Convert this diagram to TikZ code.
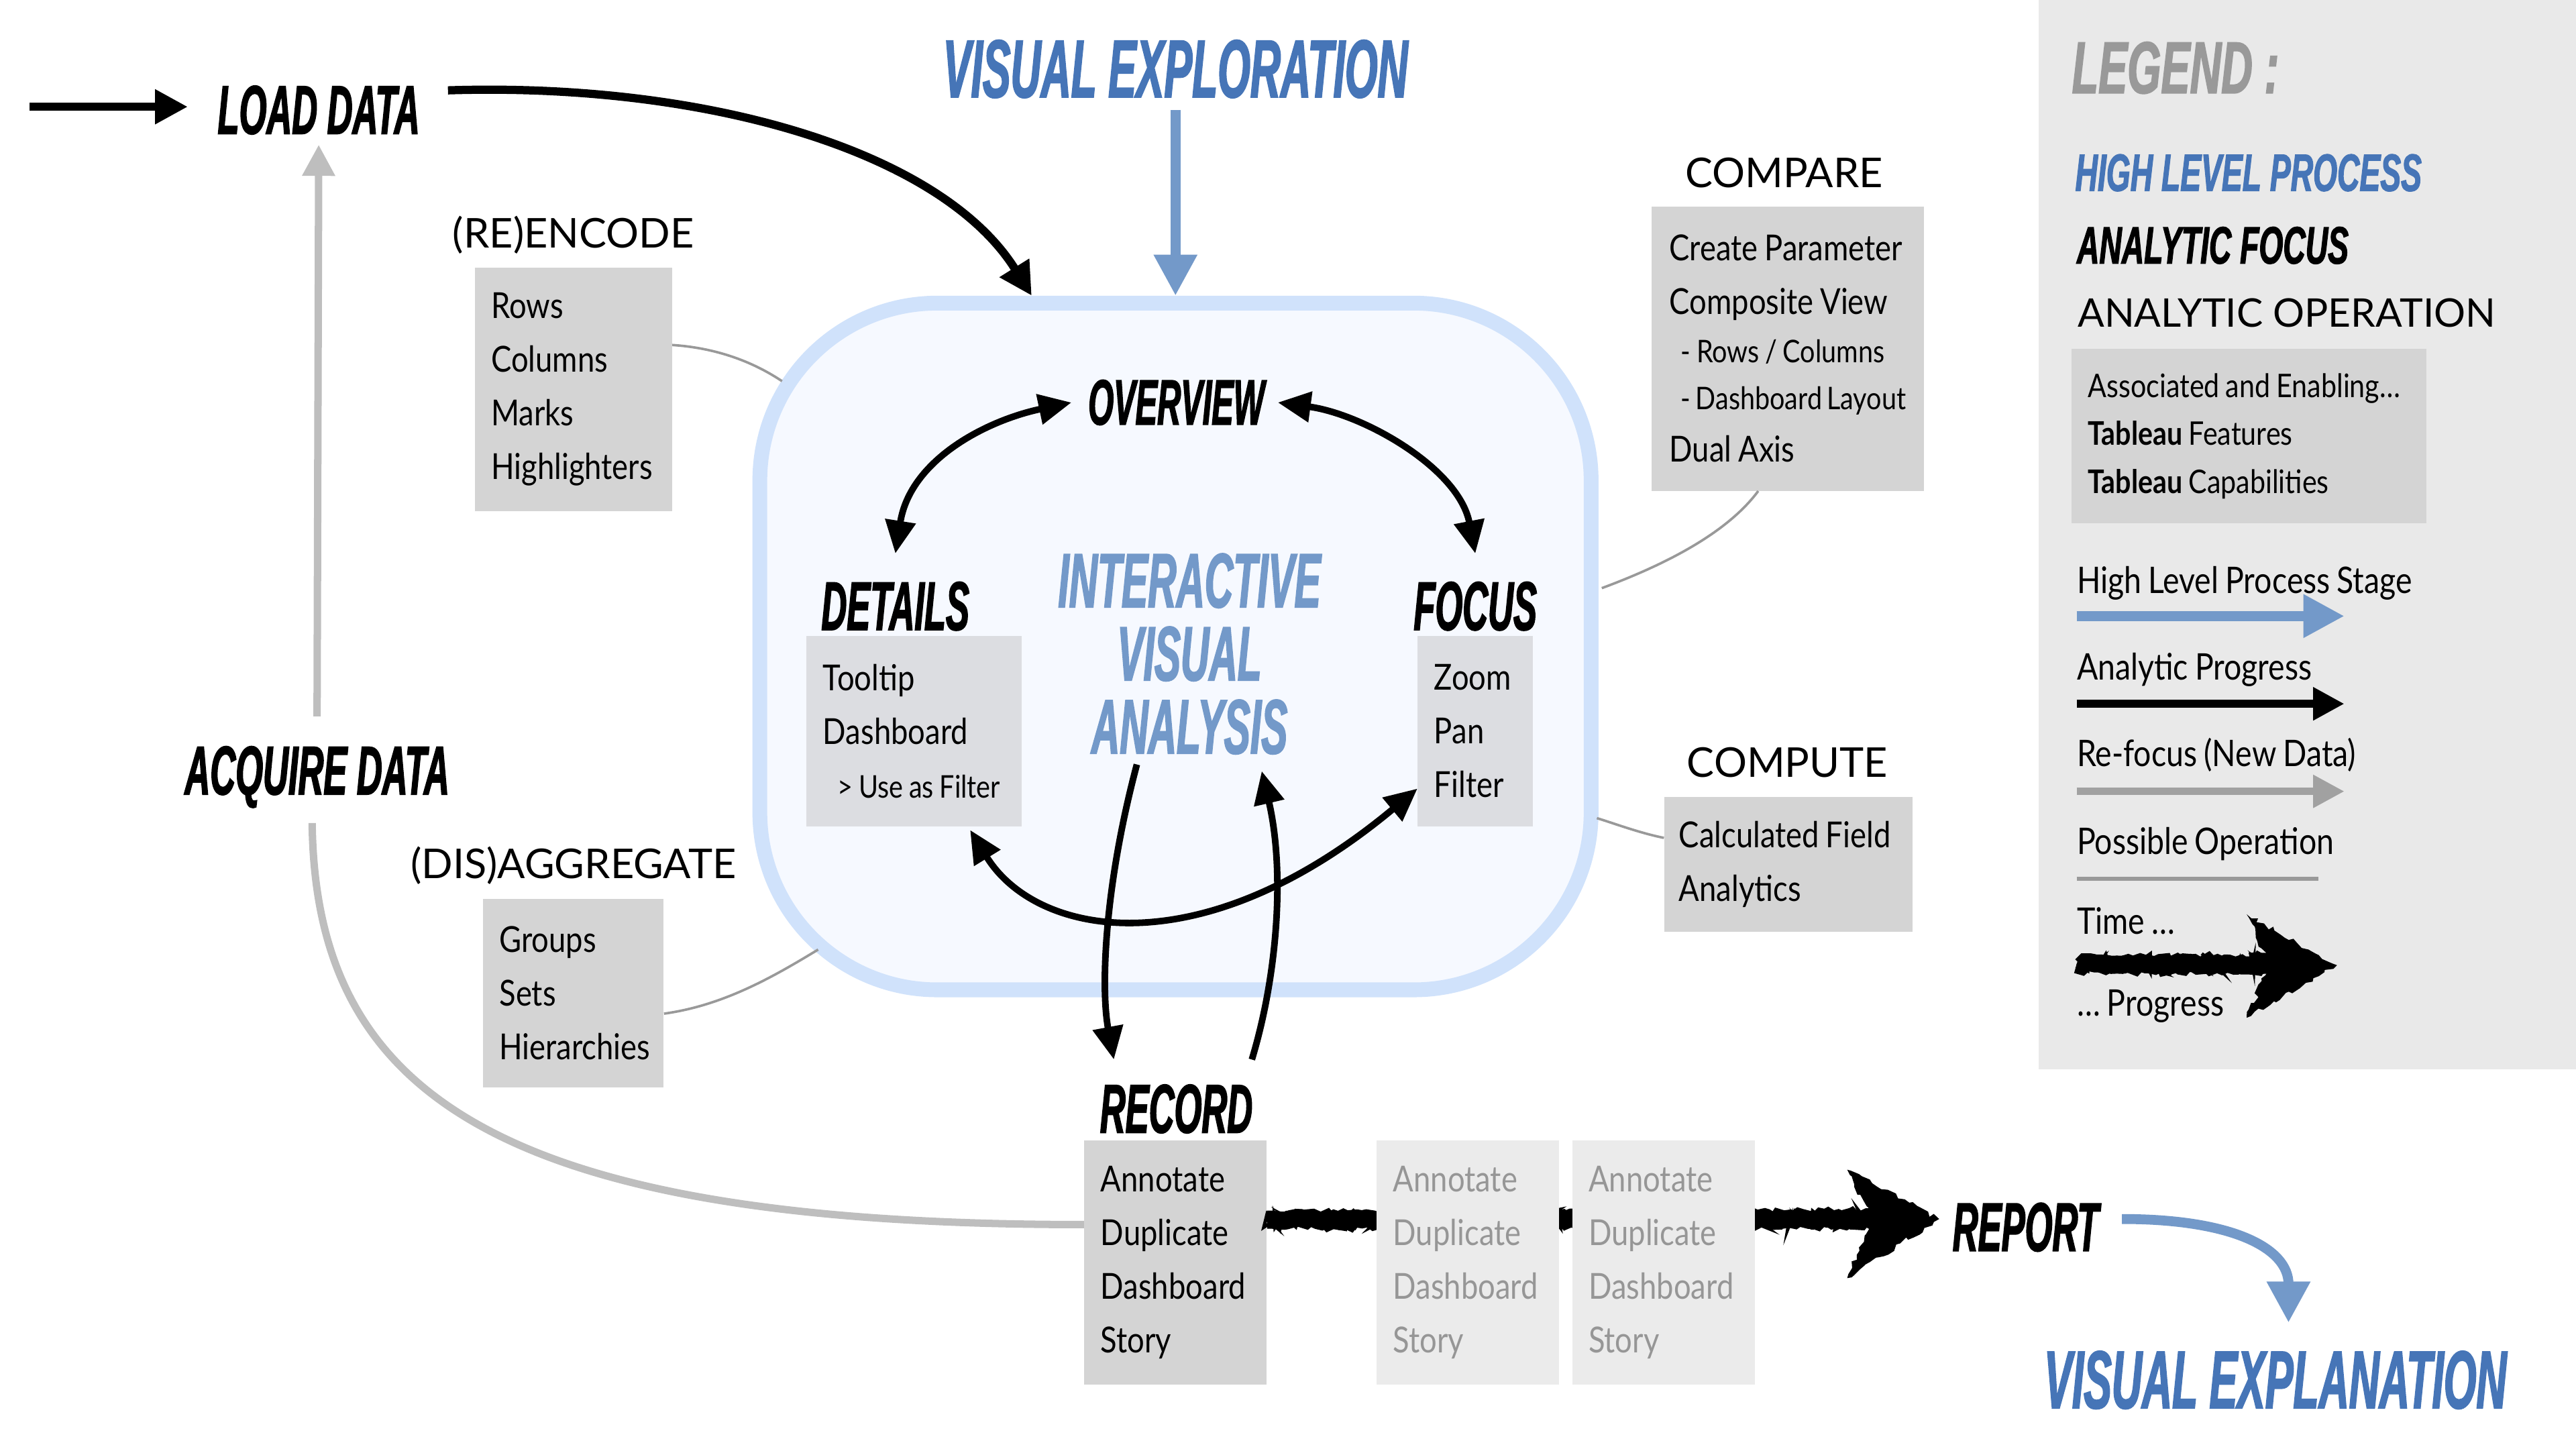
\documentclass[tikz,border=0pt]{standalone}
\usepackage{fontspec}
\usepackage{xcolor}
\usepackage{tikz}
\usetikzlibrary{arrows.meta, positioning, calc, decorations.pathmorphing}

\setmainfont{Lato}
\newfontfamily\comicfam[FakeStretch=0.51, FakeBold=1.5]{Liberation Sans}
\newfontfamily\comicwidefam[FakeStretch=0.59, FakeBold=1.5]{Liberation Sans}
\newfontfamily\condfam[FakeStretch=0.85, WordSpace=0.85]{Lato}
\newfontfamily\widefam{Lato}

\definecolor{titleblue}{RGB}{70,117,183}
\definecolor{stageblue}{RGB}{115,153,201}
\definecolor{ivaborder}{RGB}{208,226,251}
\definecolor{ivafill}{RGB}{246,249,255}
\definecolor{opgray}{RGB}{212,212,212}
\definecolor{innergray}{RGB}{220,221,225}
\definecolor{ghostgray}{RGB}{235,235,235}
\definecolor{ghosttext}{RGB}{150,150,150}
\definecolor{legendgray}{RGB}{233,233,233}
\definecolor{refocusgray}{RGB}{190,190,190}
\definecolor{linegray}{RGB}{153,153,153}

\tikzset{
  focustitle/.style={font=\comicfam\bfseries\itshape\fontsize{#1}{#1}\selectfont, inner sep=0pt},
  focustitle/.default=42,
  hltitle/.style={focustitle=50, text=titleblue},
  ivatitle/.style={font=\comicfam\bfseries\itshape\fontsize{47}{44.5}\selectfont,
    text=stageblue, align=center, inner sep=0pt},
  legendtitle/.style={font=\comicwidefam\bfseries\itshape\fontsize{#1}{#1}\selectfont,
    inner sep=0pt, anchor=base west},
  legendtitle/.default=32,
  oplabel/.style={font=\widefam\fontsize{#1}{#1}\selectfont, inner sep=0pt},
  oplabel/.default=25,
  opbox/.style={fill=opgray, inner xsep=10pt, inner ysep=0pt, align=flush left,
    font=\condfam\fontsize{21.8}{32.7}\selectfont,
    execute at begin node={\hyphenpenalty=10000 \exhyphenpenalty=10000 }},
  innerbox/.style={opbox, fill=innergray},
  ghostbox/.style={opbox, fill=ghostgray, text=ghosttext},
  legendtext/.style={font=\condfam\fontsize{22.3}{22.3}\selectfont, inner sep=0pt, anchor=base west},
  ivabox/.style={draw=ivaborder, fill=ivafill, line width=9pt, rounded corners=108pt,
    minimum width=506pt, minimum height=418pt, outer sep=4.5pt},
  progarrow/.style={draw=black, line width=5pt, -{Triangle[length=20pt,width=20pt]}},
  innerarrow/.style={draw=black, line width=4pt, -{Triangle[length=20pt,width=18pt]}},
  dualarrow/.style={draw=black, line width=4pt,
    {Triangle[length=20pt,width=18pt]}-{Triangle[length=20pt,width=18pt]}},
  hlarrow/.style={draw=stageblue, line width=6pt, -{Triangle[length=25pt,width=25pt]}},
  refocusarrow/.style={draw=refocusgray, line width=4.5pt, -{Triangle[length=19pt,width=19pt]}},
  refocusline/.style={draw=refocusgray, line width=4.5pt},
  opline/.style={draw=linegray, line width=1.5pt},
  roughline/.style={draw=black, line width=11pt, decorate,
    decoration={random steps, segment length=2.5pt, amplitude=1.3pt}},
  roughedge/.style={draw=black, line width=2pt, decorate,
    decoration={random steps, segment length=1.5pt, amplitude=6.5pt}},
  roughhead/.style={fill=black, decorate,
    decoration={random steps, segment length=3pt, amplitude=1.6pt}},
}

\begin{document}
\begin{tikzpicture}[x=1pt, y=-1pt]
\pgfmathsetseed{11}
\useasboundingbox (0,0) rectangle (1568,882);

% legend panel
\fill[legendgray] (1241,0) rectangle (1568,651);

% interactive visual analysis
\node[ivabox] (iva) at (715.5,393.5) {};
\node[ivatitle] (ivalabel) at (724,398) {INTERACTIVE\\VISUAL\\ANALYSIS};
\node[focustitle=39] (overview) at (716,245) {OVERVIEW};
\node[focustitle] (details) at (545,369) {DETAILS};
\node[focustitle] (focus) at (898,369) {FOCUS};
\node[innerbox, text width=111pt, minimum height=116pt] (dbox) at (556.5,445)
  {Tooltip\\Dashboard\\{\fontsize{19}{29}\selectfont\hspace*{9pt}>~Use~as~Filter}};
\node[innerbox, text width=50pt, minimum height=116pt] (fbox) at (898,445) {Zoom\\Pan\\Filter};

% stages
\node[focustitle] (load) at (194,67) {LOAD DATA};
\node[focustitle] (acquire) at (193,473) {ACQUIRE DATA};
\node[hltitle] (explore) at (715.5,42) {VISUAL EXPLORATION};
\node[focustitle] (record) at (716,675) {RECORD};
\node[focustitle] (report) at (1233,747) {REPORT};
\node[hltitle] (explain) at (1385,840) {VISUAL EXPLANATION};

% operations
\node[oplabel] (encode) at (349,143) {(RE)ENCODE};
\node[opbox, text width=100pt, minimum height=148pt] (ebox) at (349,237)
  {Rows\\Columns\\Marks\\Highlighters};
\node[oplabel] (aggregate) at (349,527) {(DIS)AGGREGATE};
\node[opbox, text width=90pt, minimum height=115pt] (abox) at (349,604.5)
  {Groups\\Sets\\Hierarchies};
\node[oplabel] (compare) at (1086,105) {COMPARE};
\node[opbox, inner xsep=11pt, text width=144pt, minimum height=173pt] (cbox) at (1088.2,212.2)
  {Create~Parameter\\Composite~View\\[-3.4pt]{\fontsize{19}{29}\selectfont\hspace*{7pt}-~Rows~/~Columns}\\[-4pt]{\fontsize{19}{29}\selectfont\hspace*{7pt}-~Dashboard~Layout}\\[-0.8pt]Dual~Axis};
\node[oplabel] (compute) at (1088,464) {COMPUTE};
\node[opbox, inner xsep=9pt, text width=133pt, minimum height=82pt] (pbox) at (1088.5,526)
  {Calculated~Field\\Analytics};

% record and its copies along the time arrow
\node[opbox, text width=91pt, minimum height=148.4pt] (rbox) at (715.5,768.4)
  {Annotate\\Duplicate\\Dashboard\\Story};
\draw[roughline] ([yshift=26pt]rbox.east) -- ([shift={(-40pt,5pt)}]report.west);
\draw[roughedge] ([yshift=26pt]rbox.east) -- ([shift={(-40pt,5pt)}]report.west);
\fill[roughhead] ([shift={(-8pt,5pt)}]report.west) -- ++(-56,-30) -- ++(15,30) -- ++(-15,36) -- cycle;
\node[ghostbox, text width=91pt, minimum height=148.4pt] (ghost1) at (893.5,768.4)
  {Annotate\\Duplicate\\Dashboard\\Story};
\node[ghostbox, text width=91pt, minimum height=148.4pt] (ghost2) at (1012.5,768.4)
  {Annotate\\Duplicate\\Dashboard\\Story};

% high level process
\coordinate (entry) at (18,65);
\draw[progarrow] (entry) -- ([shift={(-18pt,2pt)}]load.west);
\draw[progarrow] ([shift={(17pt,12pt)}]load.east) .. controls +(157,-5) and +(-55,-88) .. ([xshift=170pt]iva.north west);
\draw[hlarrow] ([yshift=-7pt]explore.south) -- (iva.north);
\draw[hlarrow] ([shift={(14pt,5pt)}]report.east) .. controls +(68,0) and +(0,-45) .. ([shift={(8pt,17pt)}]explain.north);
\draw[refocusarrow] ([yshift=18pt]acquire.north) -- ([yshift=-6pt]load.south);
\draw[refocusline] ([yshift=23pt]rbox.west) .. controls +(-360,0) and +(2,163) .. ([shift={(-3pt,-9pt)}]acquire.south);

% analytic focus loop
\draw[dualarrow] ([xshift=-10pt]overview.west) .. controls +(-52,11) and +(9,-57) .. ([yshift=17pt]details.north);
\draw[dualarrow] ([xshift=8pt]overview.east) .. controls +(52,7) and +(-10,-52) .. ([yshift=17pt]focus.north);
\draw[dualarrow] ([shift={(34pt,-2pt)}]dbox.south) .. controls +(40,65) and +(-132,110) .. ([yshift=-35pt]fbox.west);
\draw[innerarrow] ([shift={(-32pt,-6pt)}]ivalabel.south) .. controls +(-20,75) and +(-8,-43) .. ([shift={(-38pt,15pt)}]record.north);
\draw[innerarrow] ([shift={(46pt,15pt)}]record.north) .. controls +(16,-53) and +(14,60) .. ([shift={(44pt,-10pt)}]ivalabel.south);

% possible operations
\coordinate (encodein) at (476,232);
\coordinate (aggrin) at (498,578);
\coordinate (comparein) at (975,358);
\coordinate (computein) at (972,498);
\draw[opline] ([yshift=27pt]ebox.east) .. controls +(30,2) and +(-15,-10) .. (encodein);
\draw[opline] ([yshift=-12.5pt]abox.east) .. controls +(36,-5) and +(-28,17) .. (aggrin);
\draw[opline] ([xshift=-18pt]cbox.south) .. controls +(-20,27) and +(35,-13) .. (comparein);
\draw[opline] ([yshift=16pt]pbox.west) .. controls +(-15,-3) and +(10,3) .. (computein);

% legend
\node[legendtitle=44.7, text=linegray] (legendhead) at (1261,56.7) {LEGEND :};
\node[legendtitle, text=titleblue] (hlp) at (1263,116.2) {HIGH LEVEL PROCESS};
\node[legendtitle] (afocus) at (1264,160.4) {ANALYTIC FOCUS};
\node[oplabel=24, anchor=base west] (aop) at (1264.5,199) {ANALYTIC OPERATION};
\node[opbox, font=\condfam\fontsize{19.8}{29.2}\selectfont, text width=196pt, minimum height=106pt] (lbox) at (1369,265.4)
  {Associated~and~Enabling…\\\textbf{Tableau}~Features\\\textbf{Tableau}~Capabilities};
\node[legendtext] (hlstage) at (1264,361) {High Level Process Stage};
\draw[hlarrow] ([yshift=-14pt]hlstage.base west) -- +(163,0);
\node[legendtext] (progress) at (1264,414) {Analytic Progress};
\draw[progarrow, -{Triangle[length=19pt,width=19pt]}] ([yshift=-14.4pt]progress.base west) -- +(163,0);
\node[legendtext] (refocus) at (1264,466.7) {Re-focus (New Data)};
\draw[refocusarrow, draw=refocusgray!85!black] ([yshift=-15pt]refocus.base west) -- +(163,0);
\node[legendtext] (possible) at (1264,520) {Possible Operation};
\draw[opline, line width=2.5pt] ([yshift=-15pt]possible.base west) -- +(147,0);
\node[legendtext] (timetxt) at (1264,568.5) {Time …};
\node[legendtext] (progtxt) at (1264,618.5) {… Progress};
\draw[roughline] ([yshift=-18.5pt]timetxt.base west) -- +(118,0);
\draw[roughedge] ([yshift=-18.5pt]timetxt.base west) -- +(118,0);
\fill[roughhead] ([shift={(158.5pt,-19pt)}]timetxt.base west) -- ++(-55,-31) -- ++(14,31) -- ++(-14,32) -- cycle;
\end{tikzpicture}
\end{document}
